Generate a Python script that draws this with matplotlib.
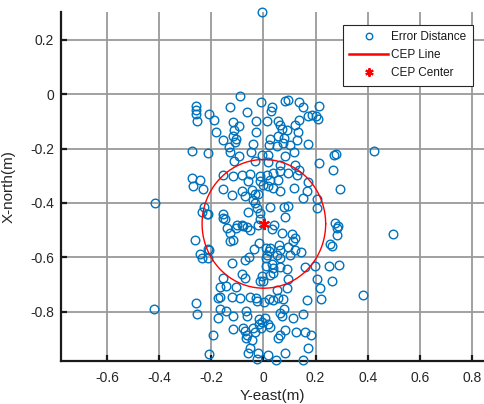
import numpy as np
import matplotlib
matplotlib.use("Agg")
import matplotlib.pyplot as plt
from matplotlib.ticker import FuncFormatter

plt.rcParams['font.family'] = ['Liberation Sans', 'DejaVu Sans']
plt.rcParams['axes.unicode_minus'] = False

# error points: (east, north) in metres
east = [
    -0.09, -0.26, -0.26, -0.258, -0.256, -0.208, -0.19, -0.182, -0.128, -0.062,
    -0.01, -0.028, -0.028, -0.038, -0.115, -0.092, -0.113, -0.115, -0.103, -0.109,
    -0.154, -0.131, -0.128, -0.274, -0.212, -0.092, -0.049, -0.006, 0.015, 0.028,
    0.032, 0.026, 0.023, 0.019, 0.058, 0.062, 0.071, 0.058, 0.054, 0.083,
    0.096, 0.092, 0.079, 0.074, 0.103, 0.122, 0.131, 0.128, 0.135, 0.137,
    0.151, 0.173, 0.173, 0.186, 0.203, 0.21, 0.213, 0.118, 0.083, 0.27,
    0.28,
    -0.113, -0.032, 0.019, 0.064, 0.122, 0.212, 0.269, -0.272, -0.244, -0.269,
    -0.233, -0.154, -0.115, -0.083, -0.051, -0.013, 0.015, 0.038, 0.064, 0.096,
    0.128, 0.135, 0.026, 0.058, 0.0, 0.019, -0.013, -0.058, -0.156, -0.122,
    -0.083, -0.071, -0.045, -0.032, -0.019, 0.038, 0.064, 0.118, 0.173, 0.169,
    0.151, 0.205, 0.295, -0.032, -0.023, -0.013, -0.013, 0.026, 0.079, 0.096,
    0.083, 0.205, -0.237, -0.218, -0.212, -0.228, -0.156, -0.154, -0.147, -0.058,
    0.041, 0.276, 0.288, -0.04,
    -0.141, -0.128, -0.106, -0.083, -0.051, -0.019, 0.032, -0.1, -0.077, -0.064,
    -0.115, -0.128, -0.263, 0.071, 0.109, 0.122, 0.115, 0.282, 0.282, 0.256,
    0.263, -0.015, -0.036, 0.01, 0.026, 0.023, 0.06, 0.064, 0.096, 0.122,
    0.144, -0.244, -0.237, -0.212, -0.212, -0.207, -0.122, -0.071, -0.054, 0.01,
    0.015, 0.051, 0.064, 0.103, 0.01, 0.032, 0.038, 0.064, 0.092, 0.16,
    0.199, 0.25, 0.292, -0.083, -0.071, -0.006, -0.013, -0.003, 0.026, 0.038,
    0.096, 0.205, 0.218, 0.263, -0.154, -0.167, -0.144, -0.103, 0.09, 0.051,
    -0.258, -0.256, -0.173, -0.166, -0.122, -0.09, -0.051, -0.028, -0.023, 0.003,
    0.023, 0.038, 0.058, 0.077, 0.167, 0.221, -0.167, -0.144, -0.115, -0.173,
    -0.067, -0.064, -0.015, -0.006, 0.006, -0.015, 0.019, 0.026, 0.062, 0.071,
    0.079, 0.115, 0.151, -0.115, -0.077, -0.071, -0.064, -0.067, -0.045, -0.032,
    -0.038, -0.01, 0.083, 0.062, 0.058, 0.126, 0.16, 0.183, -0.192, 0.173,
    -0.051, -0.207, -0.058, -0.019, -0.026, 0.019, 0.049, 0.083, 0.151,
    -0.005, 0.426, 0.497, 0.382, -0.415, -0.421,
]
north = [
    -0.006, -0.042, -0.057, -0.073, -0.097, -0.073, -0.095, -0.137, -0.048, -0.067,
    -0.028, -0.099, -0.137, -0.182, -0.103, -0.115, -0.133, -0.152, -0.164, -0.176,
    -0.17, -0.194, -0.212, -0.21, -0.215, -0.227, -0.212, -0.222, -0.1, -0.061,
    -0.045, -0.164, -0.188, -0.222, -0.097, -0.113, -0.127, -0.152, -0.192, -0.024,
    -0.021, -0.133, -0.161, -0.178, -0.188, -0.113, -0.139, -0.17, -0.093, -0.03,
    -0.048, -0.182, -0.081, -0.076, -0.081, -0.091, -0.042, -0.212, -0.228, -0.224,
    -0.218,
    -0.247, -0.244, -0.249, -0.261, -0.259, -0.253, -0.277, -0.31, -0.317, -0.339,
    -0.348, -0.298, -0.302, -0.298, -0.293, -0.302, -0.298, -0.289, -0.283, -0.289,
    -0.298, -0.277, -0.314, -0.314, -0.333, -0.339, -0.32, -0.32, -0.348, -0.372,
    -0.357, -0.375, -0.351, -0.367, -0.367, -0.345, -0.355, -0.345, -0.323, -0.357,
    -0.382, -0.385, -0.347, -0.4, -0.418, -0.437, -0.458, -0.416, -0.416, -0.412,
    -0.453, -0.418, -0.433, -0.44, -0.441, -0.414, -0.44, -0.455, -0.46, -0.433,
    -0.48, -0.474, -0.486, -0.39,
    -0.494, -0.51, -0.492, -0.483, -0.498, -0.483, -0.496, -0.48, -0.485, -0.49,
    -0.535, -0.541, -0.535, -0.51, -0.514, -0.529, -0.541, -0.492, -0.517, -0.553,
    -0.559, -0.547, -0.568, -0.566, -0.566, -0.578, -0.556, -0.572, -0.563, -0.572,
    -0.58, -0.588, -0.602, -0.568, -0.602, -0.574, -0.621, -0.609, -0.599, -0.602,
    -0.593, -0.59, -0.602, -0.593, -0.633, -0.625, -0.64, -0.637, -0.642, -0.637,
    -0.633, -0.633, -0.629, -0.661, -0.676, -0.67, -0.686, -0.688, -0.664, -0.658,
    -0.679, -0.679, -0.713, -0.688, -0.676, -0.71, -0.707, -0.71, -0.713, -0.719,
    -0.769, -0.81, -0.751, -0.748, -0.745, -0.749, -0.745, -0.751, -0.761, -0.766,
    -0.753, -0.757, -0.751, -0.753, -0.757, -0.753, -0.79, -0.798, -0.818, -0.825,
    -0.798, -0.815, -0.827, -0.837, -0.825, -0.847, -0.847, -0.855, -0.806, -0.815,
    -0.79, -0.825, -0.81, -0.865, -0.859, -0.871, -0.886, -0.898, -0.904, -0.874,
    -0.861, -0.861, -0.867, -0.888, -0.898, -0.876, -0.874, -0.886, -0.888, -0.933,
    -0.933, -0.956, -0.953, -0.953, -0.975, -0.96, -0.978, -0.953, -0.978,
    0.302, -0.207, -0.515, -0.74, -0.402, -0.791,
]

cep_center = (0.002, -0.477)
cep_radius = 0.237

blue = '#0072BD'
txt = '#262626'

fig = plt.figure(figsize=(4.85, 4.04), dpi=100)
ax = fig.add_axes([61 / 485, 1 - 361 / 404, 424 / 485, 349 / 404])

ax.plot(east, north, 'o', ms=6.2, mfc='none', mec=blue, mew=1.0,
        clip_on=False, label='Error Distance', zorder=3)

t = np.linspace(0, 2 * np.pi, 400)
ax.plot(cep_center[0] + cep_radius * np.cos(t), cep_center[1] + cep_radius * np.sin(t),
        '-', color='red', lw=1.0, label='CEP Line', zorder=4)
ax.plot([cep_center[0]], [cep_center[1]], marker=(6, 2, 0), ms=8, color='red',
        mew=1.5, ls='none', label='CEP Center', zorder=5)

ax.set_xlim(-0.776, 0.85)
ax.set_ylim(-0.982, 0.303)
ax.set_xticks(np.arange(-0.6, 0.81, 0.2))
ax.set_yticks(np.arange(-0.8, 0.21, 0.2))


def tick_fmt(v, p):
    v = round(v, 2)
    if abs(v) < 1e-9:
        return '0'
    return '%g' % v


ax.xaxis.set_major_formatter(FuncFormatter(tick_fmt))
ax.yaxis.set_major_formatter(FuncFormatter(tick_fmt))

ax.grid(True, color='#9a9a9a', lw=1.3)
ax.set_axisbelow(True)
for s in ['top', 'right']:
    ax.spines[s].set_visible(False)
for s in ['left', 'bottom']:
    ax.spines[s].set_linewidth(1.6)
    ax.spines[s].set_color('#1a1a1a')
ax.tick_params(direction='in', length=4, width=1.6, colors='#1a1a1a',
               labelcolor=txt, labelsize=10)
ax.tick_params(axis='x', pad=7)
ax.tick_params(axis='y', pad=5)

ax.set_xlabel('Y-east(m)', fontsize=11, color=txt)
ax.set_ylabel('X-north(m)', fontsize=11, color=txt)
ax.xaxis.set_label_coords(0.499, -0.079)
ax.yaxis.set_label_coords(-0.108, 0.5)

leg = ax.legend(loc='upper right', bbox_to_anchor=(0.971, 0.963), fontsize=8.5,
                frameon=True, fancybox=False, framealpha=1, edgecolor='#262626',
                handlelength=3.3, handletextpad=0.25, markerscale=0.75,
                borderpad=0.55, labelspacing=0.5, borderaxespad=0)
leg.get_frame().set_linewidth(0.8)
for h in leg.legend_handles:
    if h.get_label() == 'CEP Line':
        h.set_linewidth(1.8)
for tx in leg.get_texts():
    tx.set_color('#1a1a1a')

fig.savefig('out.png', dpi=100)
